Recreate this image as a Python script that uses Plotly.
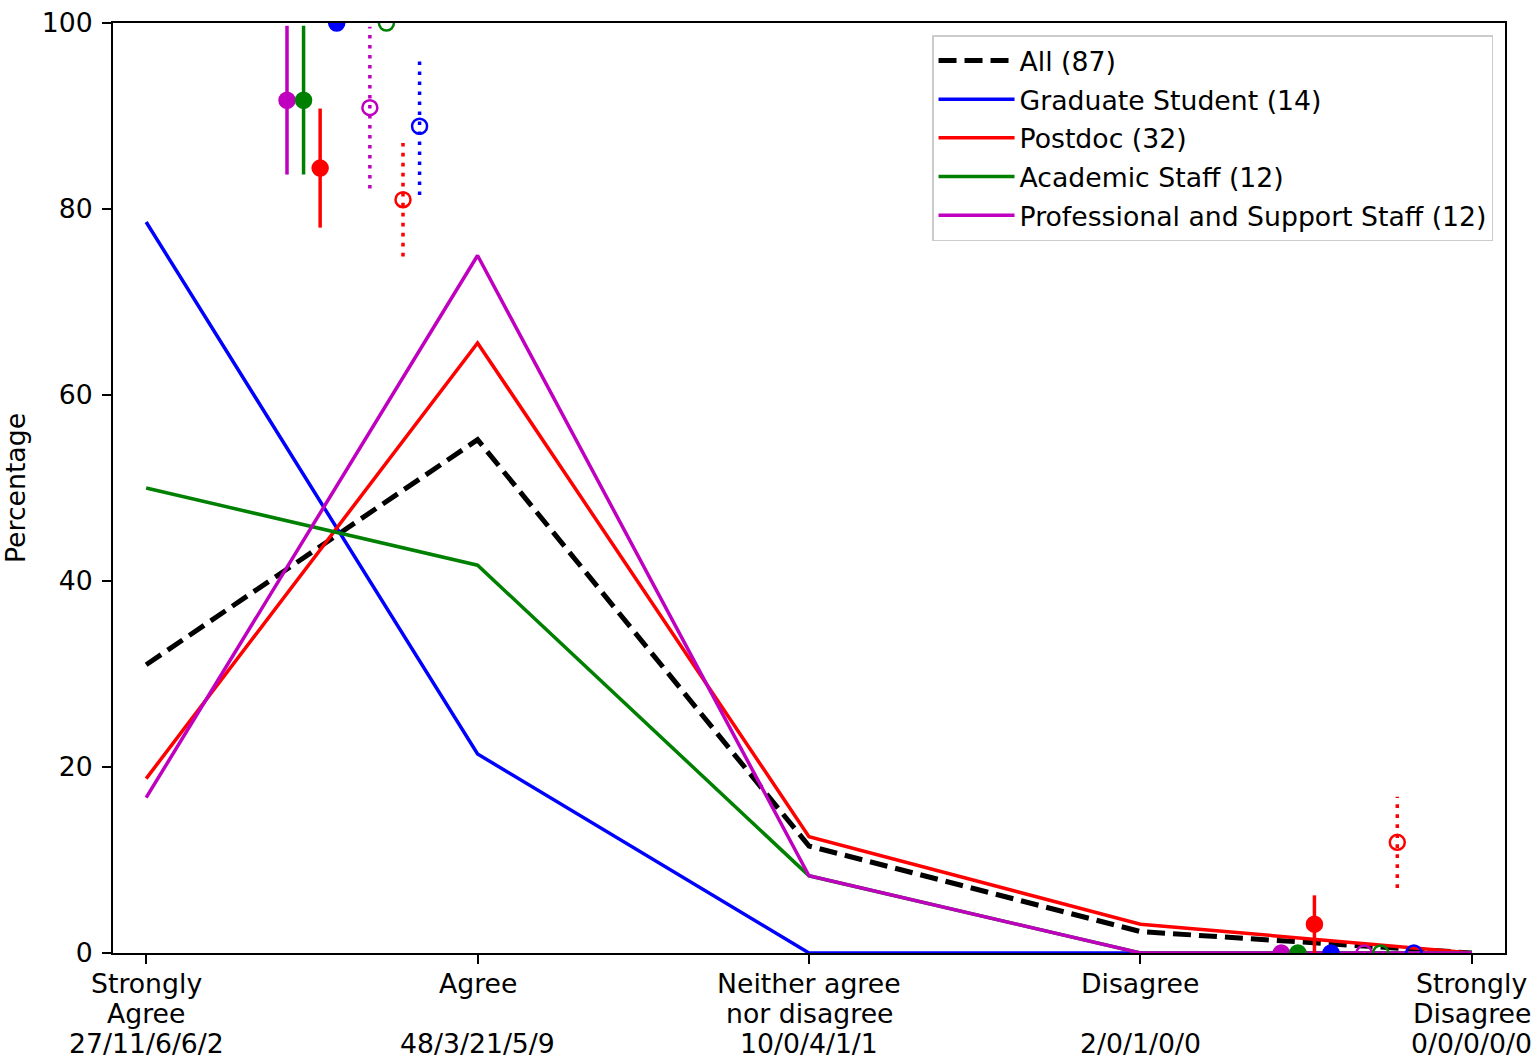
import plotly.graph_objects as go

# ---------------- data ----------------
tick_labels = [
    ["Strongly", "Agree", "27/11/6/6/2"],
    ["Agree", "", "48/3/21/5/9"],
    ["Neither agree", "nor disagree", "10/0/4/1/1"],
    ["Disagree", "", "2/0/1/0/0"],
    ["Strongly", "Disagree", "0/0/0/0/0"],
]
category_index = [0, 1, 2, 3, 4]

series_names = [
    "All (87)",
    "Graduate Student (14)",
    "Postdoc (32)",
    "Academic Staff (12)",
    "Professional and Support Staff (12)",
]
all_pct = [31.0, 55.2, 11.5, 2.3, 0.0]
grad_pct = [78.6, 21.4, 0.0, 0.0, 0.0]
postdoc_pct = [18.75, 65.6, 12.5, 3.1, 0.0]
academic_pct = [50.0, 41.7, 8.3, 0.0, 0.0]
prof_pct = [16.7, 75.0, 8.3, 0.0, 0.0]

# summary points, order: Graduate, Postdoc, Academic, Professional
agree_combined = [100.0, 84.4, 91.7, 91.7]
agree_combined_err = [0.0, 6.4, 8.0, 8.0]
agree_compare = [88.9, 81.0, 100.0, 90.9]
agree_compare_err = [7.4, 6.1, 0.0, 8.7]
disagree_combined = [0.0, 3.1, 0.0, 0.0]
disagree_combined_err = [0.0, 3.1, 0.0, 0.0]
disagree_compare = [0.0, 11.9, 0.0, 0.0]
disagree_compare_err = [0.0, 4.9, 0.0, 0.0]

# ---------------- styles ----------------
FONT = "DejaVu Sans"
FS = 26.7
group_colors = ["#0000ff", "#ff0000", "#008000", "#bf00bf"]
group_offsets = [0.075, 0.025, -0.025, -0.075]
LW = 3.5
DOT = "3.6px,6.4px"
LABEL_LINE_GAP = 30     # px between tick-label lines
LABEL_FIRST = 30        # px from axis to first line centre

fig = go.Figure()

# main lines
fig.add_trace(go.Scatter(x=category_index, y=all_pct, mode="lines", name=series_names[0],
                         legendgroup="g0",
                         line=dict(color="black", width=5, dash="18px,8px")))
for i, (name, vals, col) in enumerate(zip(series_names[1:], [grad_pct, postdoc_pct, academic_pct, prof_pct], group_colors)):
    fig.add_trace(go.Scatter(x=category_index, y=vals, mode="lines", name=name,
                             legendgroup="g%d" % (i + 1),
                             line=dict(color=col, width=LW)))

# summary points with error bars
point_sets = [
    (0.5, agree_combined, agree_combined_err, True),
    (0.75, agree_compare, agree_compare_err, False),
    (3.5, disagree_combined, disagree_combined_err, True),
    (3.75, disagree_compare, disagree_compare_err, False),
]
for center, vals, errs, filled in point_sets:
    for gi in [3, 2, 1, 0]:
        col = group_colors[gi]
        xp = center + group_offsets[gi]
        v, e = vals[gi], errs[gi]
        if e > 0:
            fig.add_trace(go.Scatter(
                x=[xp, xp], y=[v - e, v + e], mode="lines", showlegend=False,
                hoverinfo="skip",
                line=dict(color=col, width=LW, dash="solid" if filled else DOT)))
        fig.add_trace(go.Scatter(
            x=[xp], y=[v], mode="markers", showlegend=False,
            marker=dict(symbol="circle" if filled else "circle-open", size=15,
                        color=col, line=dict(color=col, width=2.5))))

# x tick labels (three lines each, matplotlib-like line spacing)
for xi, lines in zip(category_index, tick_labels):
    for j, txt in enumerate(lines):
        if not txt:
            continue
        fig.add_annotation(x=xi, xref="x", y=0, yref="paper", text=txt,
                           showarrow=False, xanchor="center", yanchor="middle",
                           yshift=-(LABEL_FIRST + LABEL_LINE_GAP * j),
                           font=dict(family=FONT, size=FS, color="black"))

axis_common = dict(
    showline=True, linecolor="black", linewidth=2, mirror=True,
    ticks="outside", ticklen=9, tickwidth=2, tickcolor="black",
    showgrid=False, zeroline=False,
)

fig.update_layout(
    width=1535, height=1056,
    margin=dict(l=113, r=30, t=23, b=103, autoexpand=False),
    paper_bgcolor="white", plot_bgcolor="white",
    font=dict(family=FONT, size=FS, color="black"),
    showlegend=True,
    legend=dict(
        x=0.9914, y=0.987, xanchor="right", yanchor="top",
        bgcolor="rgba(255,255,255,0.8)", bordercolor="#cccccc", borderwidth=1.5,
        font=dict(family=FONT, size=FS, color="black"),
        itemwidth=76, tracegroupgap=1,
    ),
    xaxis=dict(range=[-0.1, 4.1], tickmode="array", tickvals=category_index,
               showticklabels=False, **axis_common),
    yaxis=dict(range=[0, 100], tickmode="array", tickvals=[0, 20, 40, 60, 80, 100],
               ticklabelstandoff=4,
               tickfont=dict(family=FONT, size=FS, color="black"),
               title=dict(text="Percentage", font=dict(family=FONT, size=FS), standoff=13),
               **axis_common),
)

fig.write_html("out.html", config={"displayModeBar": False},
               post_script="document.body.style.margin='0';")
